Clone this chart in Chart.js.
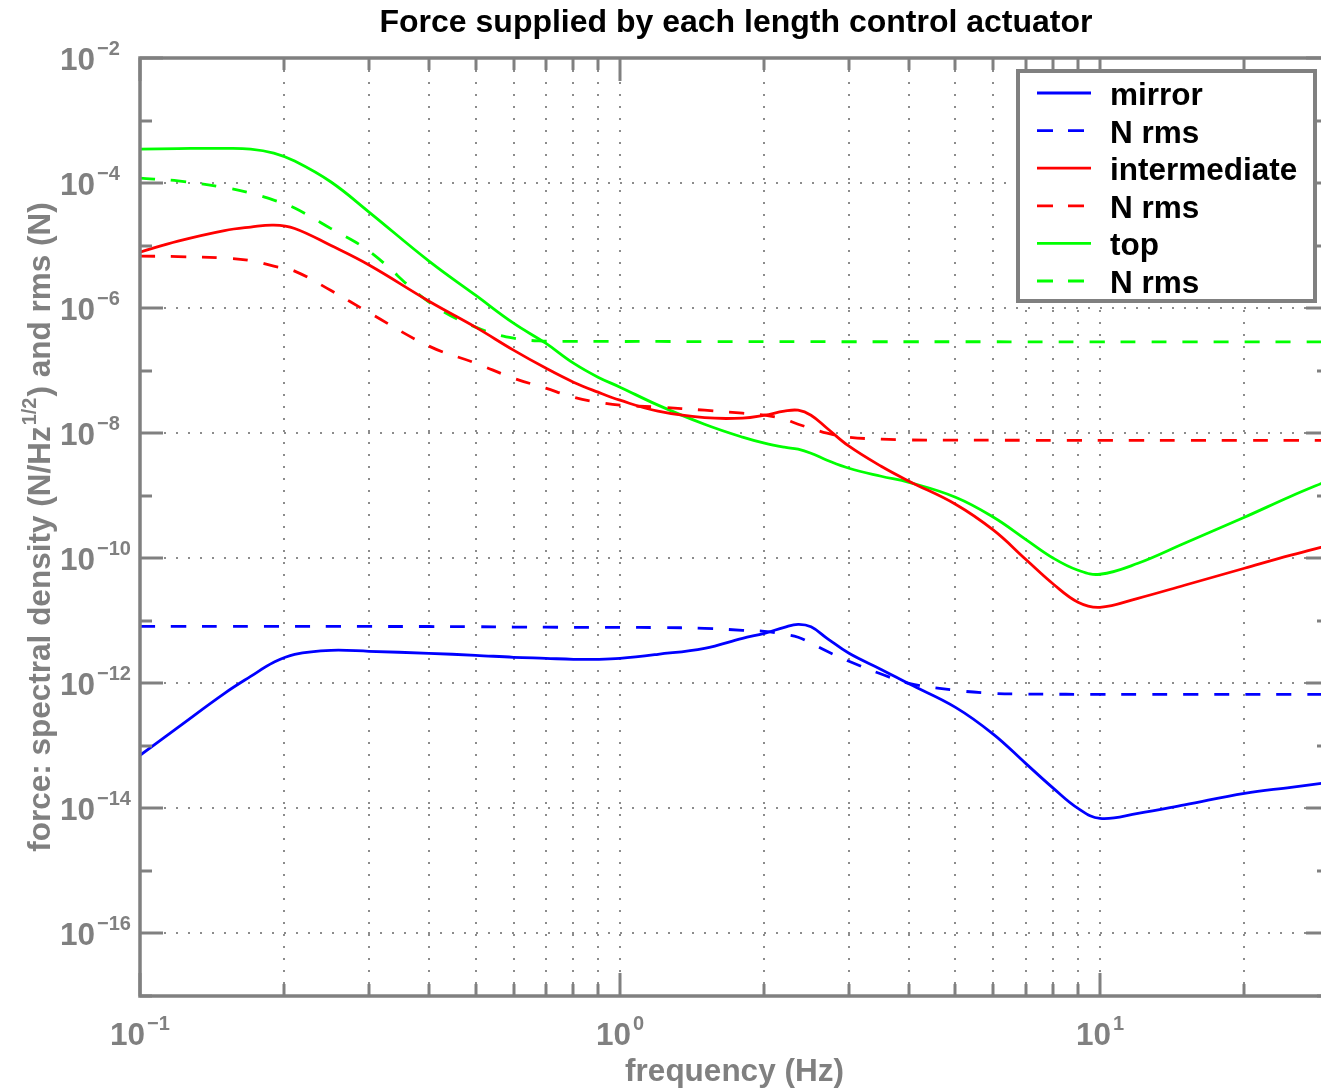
<!DOCTYPE html>
<html><head><meta charset="utf-8">
<script src="https://cdn.jsdelivr.net/npm/chart.js@4.4.0/dist/chart.umd.min.js"></script>
<style>
html,body{margin:0;padding:0;background:#fff;overflow:hidden;width:1321px;height:1089px}
#wrap{position:absolute;left:0;top:0;width:1330px;height:1089px}
</style>
</head><body><div id="wrap"><canvas id="c" width="1330" height="1089"></canvas></div>
<script>
// ---- data ----
const freqHz = [0.1, 0.12, 0.15, 0.17, 0.19, 0.21, 0.25, 0.3, 0.4, 0.5, 0.6, 0.7, 0.8, 0.9, 1.0, 1.2, 1.5, 1.8, 2.0, 2.2, 2.35, 2.5, 2.7, 3.0, 3.5, 4, 5, 6, 7, 8, 9, 10, 12, 15, 20, 25, 30];
const mirrorForce = [7.05e-14, 1.98e-13, 6.92e-13, 1.29e-12, 2.17e-12, 2.91e-12, 3.37e-12, 3.25e-12, 3.02e-12, 2.81e-12, 2.61e-12, 2.51e-12, 2.42e-12, 2.42e-12, 2.51e-12, 2.91e-12, 3.63e-12, 5.25e-12, 6.31e-12, 7.87e-12, 8.79e-12, 8.02e-12, 5.25e-12, 3.02e-12, 1.67e-12, 9.82e-13, 4.13e-13, 1.53e-13, 5.25e-14, 2.09e-14, 1.0e-14, 6.92e-15, 8.32e-15, 1.14e-14, 1.74e-14, 2.17e-14, 2.61e-14];
const mirrorRms = [8.17e-12, 8.17e-12, 8.17e-12, 8.17e-12, 8.17e-12, 8.17e-12, 8.15e-12, 8.12e-12, 8.1e-12, 8.05e-12, 7.95e-12, 7.9e-12, 7.87e-12, 7.87e-12, 7.85e-12, 7.8e-12, 7.59e-12, 7.05e-12, 6.79e-12, 6.08e-12, 5.45e-12, 4.37e-12, 3.25e-12, 2.25e-12, 1.41e-12, 1.0e-12, 7.73e-13, 6.92e-13, 6.72e-13, 6.7e-13, 6.68e-13, 6.67e-13, 6.66e-13, 6.65e-13, 6.65e-13, 6.64e-13, 6.64e-13];
const intermediateForce = [7.87e-6, 1.18e-5, 1.74e-5, 1.98e-5, 2.13e-5, 1.88e-5, 1.0e-5, 4.88e-6, 1.29e-6, 4.97e-7, 2.13e-7, 1.10e-7, 6.55e-8, 4.53e-8, 3.37e-8, 2.25e-8, 1.77e-8, 1.74e-8, 1.94e-8, 2.25e-8, 2.33e-8, 1.94e-8, 1.20e-8, 6.19e-9, 2.96e-9, 1.71e-9, 7.31e-10, 2.81e-10, 9.64e-11, 3.84e-11, 1.98e-11, 1.64e-11, 2.29e-11, 3.70e-11, 6.92e-11, 1.12e-10, 1.61e-10];
const intermediateRms = [6.79e-6, 6.67e-6, 6.31e-6, 5.75e-6, 4.69e-6, 3.91e-6, 1.91e-6, 8.47e-7, 2.47e-7, 1.32e-7, 7.59e-8, 5.25e-8, 3.77e-8, 3.13e-8, 2.81e-8, 2.61e-8, 2.33e-8, 2.09e-8, 1.94e-8, 1.67e-8, 1.39e-8, 1.20e-8, 1.0e-8, 8.63e-9, 8.02e-9, 7.8e-9, 7.73e-9, 7.72e-9, 7.71e-9, 7.7e-9, 7.7e-9, 7.69e-9, 7.68e-9, 7.68e-9, 7.67e-9, 7.67e-9, 7.66e-9];
const topForce = [3.50e-4, 3.56e-4, 3.59e-4, 3.50e-4, 3.02e-4, 2.25e-4, 1.04e-4, 3.44e-5, 5.65e-6, 1.61e-6, 5.75e-7, 2.75e-7, 1.32e-7, 7.87e-8, 5.45e-8, 2.81e-8, 1.39e-8, 8.63e-9, 6.92e-9, 5.97e-9, 5.55e-9, 4.79e-9, 3.70e-9, 2.75e-9, 2.05e-9, 1.64e-9, 9.46e-10, 4.53e-10, 2.01e-10, 1.0e-10, 6.43e-11, 5.55e-11, 8.32e-11, 1.74e-10, 4.53e-10, 9.82e-10, 1.77e-9];
const topRms = [1.20e-4, 1.08e-4, 8.47e-5, 6.92e-5, 5.35e-5, 3.98e-5, 1.87e-5, 8.17e-6, 1.25e-6, 4.97e-7, 3.31e-7, 2.96e-7, 2.95e-7, 2.94e-7, 2.93e-7, 2.93e-7, 2.92e-7, 2.92e-7, 2.92e-7, 2.91e-7, 2.91e-7, 2.91e-7, 2.91e-7, 2.9e-7, 2.9e-7, 2.9e-7, 2.9e-7, 2.9e-7, 2.89e-7, 2.89e-7, 2.89e-7, 2.89e-7, 2.89e-7, 2.88e-7, 2.88e-7, 2.88e-7, 2.88e-7];

const legendLabels = ['mirror', 'N rms', 'intermediate', 'N rms', 'top', 'N rms'];
const titleText = 'Force supplied by each length control actuator';
const xTitleText = 'frequency (Hz)';
const yTitleParts = ['force: spectral density (N/Hz', '1/2', ') and rms (N)'];
const xTickExponents = [-1, 0, 1];
const yTickExponents = [-2, -4, -6, -8, -10, -12, -14, -16];
const xRange = [0.1, 30];
const yRange = [1e-17, 1e-2];

// ---- styling ----
const FONT = '"Liberation Sans", Arial, Helvetica, sans-serif';
const AX = '#808080';
const BLUE = '#0000ff', RED = '#ff0000', GREEN = '#00ff00';
const DASH = [15, 16];
const LW = 2.8;

function pts(vals) { return freqHz.map((f, i) => ({ x: f, y: vals[i] })); }
function ds(label, vals, color, dashed) {
  return { label, data: pts(vals), borderColor: color, backgroundColor: color,
    borderWidth: LW, borderDash: dashed ? DASH : [], pointRadius: 0,
    tension: 0.4, fill: false };
}
const datasets = [
  ds(legendLabels[0], mirrorForce, BLUE, false),
  ds(legendLabels[1], mirrorRms, BLUE, true),
  ds(legendLabels[2], intermediateForce, RED, false),
  ds(legendLabels[3], intermediateRms, RED, true),
  ds(legendLabels[4], topForce, GREEN, false),
  ds(legendLabels[5], topRms, GREEN, true)
];

function sup(ctx, base, exp, x, y, align) {
  ctx.font = 'bold 31.5px ' + FONT;
  const wb = ctx.measureText(base).width;
  ctx.font = 'bold 20px ' + FONT;
  const we = ctx.measureText(exp).width;
  let left = align === 'center' ? x - (wb + 2 + we) / 2 : x;
  ctx.textAlign = 'left'; ctx.textBaseline = 'alphabetic';
  ctx.font = 'bold 31.5px ' + FONT;
  ctx.fillText(base, left, y);
  ctx.font = 'bold 20px ' + FONT;
  ctx.fillText(exp, left + wb + 2, y - 15);
}

const matlabAxes = {
  id: 'matlabAxes',
  beforeDatasetsDraw(chart) {
    const { ctx, chartArea: a, scales: { x, y } } = chart;
    ctx.save();
    ctx.strokeStyle = '#8c8c8c'; ctx.lineWidth = 2; ctx.setLineDash([2, 10]);
    for (let e = -1; e <= 1; e++) {
      for (let m = 1; m <= 9; m++) {
        const v = m * Math.pow(10, e);
        if (v <= xRange[0] || v >= xRange[1]) continue;
        const px = Math.round(x.getPixelForValue(v));
        ctx.beginPath(); ctx.moveTo(px, a.top); ctx.lineTo(px, a.bottom); ctx.stroke();
      }
    }
    yTickExponents.forEach(e => {
      const v = Math.pow(10, e);
      if (v >= yRange[1]) return;
      const py = Math.round(y.getPixelForValue(v));
      ctx.beginPath(); ctx.moveTo(a.left, py); ctx.lineTo(a.right, py); ctx.stroke();
    });
    ctx.restore();
  },
  afterDatasetsDraw(chart) {
    const { ctx, chartArea: a, scales: { x, y } } = chart;
    ctx.save();
    ctx.setLineDash([]);
    ctx.strokeStyle = AX; ctx.fillStyle = AX;
    ctx.lineWidth = 3;
    for (let e = -1; e <= 1; e++) {
      for (let m = 1; m <= 9; m++) {
        const v = m * Math.pow(10, e);
        if (v < xRange[0] || v > xRange[1]) continue;
        const px = Math.round(x.getPixelForValue(v));
        const L = m === 1 ? 23 : 12;
        ctx.beginPath(); ctx.moveTo(px, a.bottom); ctx.lineTo(px, a.bottom - L); ctx.stroke();
        ctx.beginPath(); ctx.moveTo(px, a.top); ctx.lineTo(px, a.top + L); ctx.stroke();
      }
    }
    for (let e = -17; e <= -2; e++) {
      const py = Math.round(y.getPixelForValue(Math.pow(10, e)));
      const L = (e % 2 === 0) ? 23 : 12;
      ctx.beginPath(); ctx.moveTo(a.left, py); ctx.lineTo(a.left + L, py); ctx.stroke();
      ctx.beginPath(); ctx.moveTo(a.right, py); ctx.lineTo(a.right - L, py); ctx.stroke();
    }
    ctx.lineWidth = 3.5;
    ctx.strokeRect(a.left, a.top, a.right - a.left, a.bottom - a.top);
    xTickExponents.forEach(e => {
      const px = x.getPixelForValue(Math.pow(10, e));
      sup(ctx, '10', String(e).replace('-', '\u2212'), px, a.bottom + 49, 'center');
    });
    yTickExponents.forEach(e => {
      const py = y.getPixelForValue(Math.pow(10, e));
      sup(ctx, '10', String(e).replace('-', '\u2212'), 60, py + 12, 'left');
    });
    ctx.font = 'bold 31.5px ' + FONT;
    ctx.textAlign = 'center'; ctx.textBaseline = 'alphabetic';
    ctx.fillText(xTitleText, (a.left + a.right) / 2, 1081);
    ctx.save();
    ctx.translate(50, (a.top + a.bottom) / 2);
    ctx.rotate(-Math.PI / 2);
    ctx.textAlign = 'left';
    ctx.font = 'bold 31.5px ' + FONT;
    const w1 = ctx.measureText(yTitleParts[0]).width;
    const w3 = ctx.measureText(yTitleParts[2]).width;
    ctx.font = 'bold 20px ' + FONT;
    const w2 = ctx.measureText(yTitleParts[1]).width;
    let sx = -(w1 + w2 + w3 + 2) / 2;
    ctx.font = 'bold 31.5px ' + FONT;
    ctx.fillText(yTitleParts[0], sx, 0);
    ctx.font = 'bold 20px ' + FONT;
    ctx.fillText(yTitleParts[1], sx + w1 + 1, -14);
    ctx.font = 'bold 31.5px ' + FONT;
    ctx.fillText(yTitleParts[2], sx + w1 + w2 + 2, 0);
    ctx.restore();
    ctx.fillStyle = '#000';
    ctx.font = 'bold 32px ' + FONT;
    ctx.textAlign = 'center';
    ctx.fillText(titleText, 736, 32);
    const lx = 1018, ly = 71, lw = 297, lh = 230;
    ctx.fillStyle = '#fff';
    ctx.fillRect(lx, ly, lw, lh);
    ctx.strokeStyle = AX; ctx.lineWidth = 4;
    ctx.strokeRect(lx, ly, lw, lh);
    chart.data.datasets.forEach((d, i) => {
      const yy = 93 + i * 37.6;
      ctx.strokeStyle = d.borderColor; ctx.lineWidth = LW;
      ctx.setLineDash(d.borderDash && d.borderDash.length ? [16, 15] : []);
      ctx.beginPath(); ctx.moveTo(1037, yy); ctx.lineTo(1091, yy); ctx.stroke();
      ctx.setLineDash([]);
      ctx.fillStyle = '#000';
      ctx.font = 'bold 31.5px ' + FONT;
      ctx.textAlign = 'left'; ctx.textBaseline = 'alphabetic';
      ctx.fillText(d.label, 1110, yy + 12);
    });
    ctx.restore();
  }
};

new Chart(document.getElementById('c'), {
  type: 'line',
  data: { datasets },
  options: {
    responsive: false, animation: false, devicePixelRatio: 1,
    layout: { padding: { left: 140, top: 58, right: 1, bottom: 93 } },
    scales: {
      x: { type: 'logarithmic', min: xRange[0], max: xRange[1], display: false },
      y: { type: 'logarithmic', min: yRange[0], max: yRange[1], display: false }
    },
    plugins: { legend: { display: false }, tooltip: { enabled: false }, title: { display: false } }
  },
  plugins: [matlabAxes]
});
</script>
</body></html>
